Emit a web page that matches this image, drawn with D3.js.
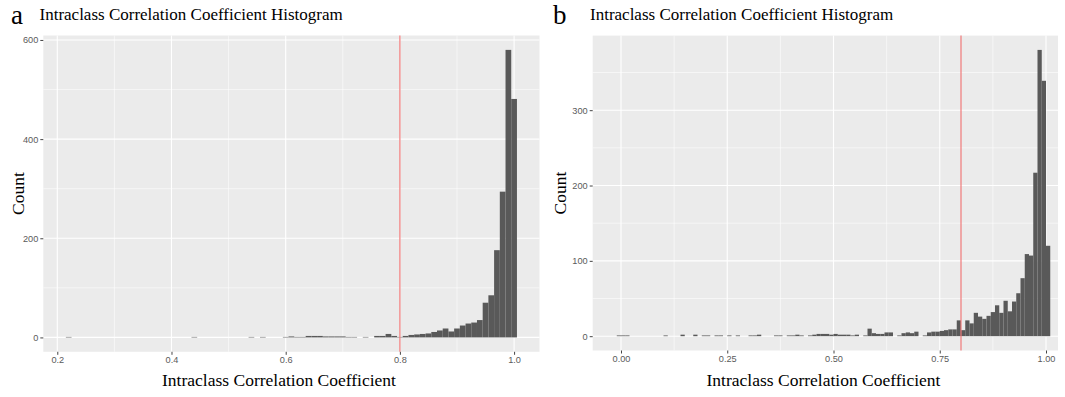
<!DOCTYPE html>
<html><head><meta charset="utf-8">
<script src="https://cdn.jsdelivr.net/npm/d3@7"></script>
<style>body{margin:0;background:#fff}svg{display:block}</style>
</head><body><svg id="c" width="1065" height="397"></svg>
<script>
// ---------------- data ----------------
const binWidth = 0.01;
const cutoff = 0.8;
const titleText = "Intraclass Correlation Coefficient Histogram";
const xTitle = "Intraclass Correlation Coefficient";
const yTitle = "Count";

// Panel a: bins centred on 0.20, 0.21, ... 1.00
const binStartsA = d3.range(0, 81).map(i => 0.195 + i * 0.01);
const countsA = [
  0,0,1,0,0,0,0,0,0,0, 0,0,0,0,0,0,0,0,0,0,   // 0.20-0.39
  0,0,0,0,1,0,0,0,0,0, 0,0,0,0,1,0,1,0,0,0,   // 0.40-0.59
  1,2,1,1,3,3,3,2,2,2, 2,1,1,0,1,0,3,3,7,3,   // 0.60-0.79
  1,3,5,6,7,8,11,14,18,12, 18,24,28,30,35,70,85,176,294,580, // 0.80-0.99
  481                                          // 1.00
];
const xTicksA = [0.2, 0.4, 0.6, 0.8, 1.0];
const xMinorA = [0.3, 0.5, 0.7, 0.9];
const yTicksA = [0, 200, 400, 600];
const yMinorA = [100, 300, 500];

// Panel b: bins with left edges -0.01, 0.00, ... 1.00
const binStartsB = d3.range(0, 102).map(i => -0.01 + i * 0.01);
const countsB = [
  1,1,1,0,0,0,0,0,0,0,        // -0.01 .. 0.08
  0,1,0,0,0,2,0,0,2,0,        // 0.09 .. 0.18
  1,1,0,1,1,0,1,0,1,0,        // 0.19 .. 0.28
  0,1,1,2,0,0,0,1,1,0,        // 0.29 .. 0.38
  1,1,2,1,0,1,2,3,3,3,        // 0.39 .. 0.48
  2,3,2,2,2,1,2,0,1,10,       // 0.49 .. 0.58
  4,3,3,5,5,0,1,4,5,4,        // 0.59 .. 0.68
  6,0,1,5,6,6,7,8,9,9,        // 0.69 .. 0.78
  21,8,21,17,31,26,23,27,32,41, // 0.79 .. 0.88
  31,47,33,46,57,77,109,107,217,380, // 0.89 .. 0.98
  339,120                     // 0.99 .. 1.00
];
const xTicksB = [0, 0.25, 0.5, 0.75, 1.0];
const xMinorB = [0.125, 0.375, 0.625, 0.875];
const yTicksB = [0, 100, 200, 300];
const yMinorB = [50, 150, 250, 350];

// ---------------- drawing ----------------
const svg = d3.select("#c");

function panel(o) {
  const g = svg.append("g");
  const x = d3.scaleLinear().domain(o.xDomain).range([o.left, o.right]);
  const y = d3.scaleLinear().domain(o.yDomain).range([o.bottom, o.top]);

  g.append("rect").attr("x", o.left).attr("y", o.top)
    .attr("width", o.right - o.left).attr("height", o.bottom - o.top)
    .attr("fill", "#EBEBEB");

  // minor grid
  g.selectAll(".xm").data(o.xMinor).enter().append("line")
    .attr("x1", d => x(d)).attr("x2", d => x(d)).attr("y1", o.top).attr("y2", o.bottom)
    .attr("stroke", "#fff").attr("stroke-width", 0.55);
  g.selectAll(".ym").data(o.yMinor).enter().append("line")
    .attr("y1", d => y(d)).attr("y2", d => y(d)).attr("x1", o.left).attr("x2", o.right)
    .attr("stroke", "#fff").attr("stroke-width", 0.55);
  // major grid
  g.selectAll(".xM").data(o.xTicks).enter().append("line")
    .attr("x1", d => x(d)).attr("x2", d => x(d)).attr("y1", o.top).attr("y2", o.bottom)
    .attr("stroke", "#fff").attr("stroke-width", 1.1);
  g.selectAll(".yM").data(o.yTicks).enter().append("line")
    .attr("y1", d => y(d)).attr("y2", d => y(d)).attr("x1", o.left).attr("x2", o.right)
    .attr("stroke", "#fff").attr("stroke-width", 1.1);

  // bars
  const bins = o.starts.map((s, i) => ({x0: s, x1: s + binWidth, n: o.counts[i]}));
  g.selectAll(".bar").data(bins.filter(d => d.n > 0)).enter().append("rect")
    .attr("x", d => x(d.x0)).attr("width", d => x(d.x1) - x(d.x0))
    .attr("y", d => y(d.n)).attr("height", d => y(0) - y(d.n))
    .attr("fill", "#595959");

  // cutoff line
  g.append("line").attr("x1", x(cutoff)).attr("x2", x(cutoff))
    .attr("y1", o.top).attr("y2", o.bottom)
    .attr("stroke", "#F07A7A").attr("stroke-width", 1.2);

  // axes
  const xa = d3.axisBottom(x).tickValues(o.xTicks).tickSize(3).tickPadding(2)
    .tickFormat(o.xFmt);
  const gx = g.append("g").attr("transform", `translate(0,${o.bottom})`).call(xa);
  const ya = d3.axisLeft(y).tickValues(o.yTicks).tickSize(3).tickPadding(2)
    .tickFormat(d3.format("d"));
  const gy = g.append("g").attr("transform", `translate(${o.left},0)`).call(ya);
  [gx, gy].forEach(a => {
    a.select(".domain").remove();
    a.selectAll(".tick line").attr("stroke", "#444").attr("stroke-width", 1);
    a.selectAll(".tick text").attr("fill", "#5a5a5a")
      .style("font-family", "'Liberation Sans', Arial, sans-serif").style("font-size", "9.2px");
  });

  // titles
  const serif = "'Liberation Serif', 'Times New Roman', serif";
  g.append("text").attr("x", o.xTitleX).attr("y", o.xTitleY)
    .attr("text-anchor", "middle").style("font-family", serif).style("font-size", "17.5px")
    .attr("fill", "#000").text(xTitle);
  g.append("text").attr("transform", `translate(${o.yTitleX},${(o.top + o.bottom) / 2}) rotate(-90)`)
    .attr("text-anchor", "middle").style("font-family", serif).style("font-size", "17.5px")
    .attr("fill", "#000").text(yTitle);
  g.append("text").attr("x", o.titleX).attr("y", 20)
    .style("font-family", serif).style("font-size", "17px").attr("fill", "#000").text(titleText);
  g.append("text").attr("x", o.letterX).attr("y", 24)
    .style("font-family", serif).style("font-size", "27px").attr("fill", "#000").text(o.letter);
}

panel({
  left: 43.3, right: 539.5, top: 35.5, bottom: 351.8,
  xDomain: [0.1755, 1.0445], yDomain: [-29, 609],
  starts: binStartsA, counts: countsA,
  xTicks: xTicksA, xMinor: xMinorA, yTicks: yTicksA, yMinor: yMinorA,
  xFmt: d3.format(".1f"),
  xTitleX: 279, xTitleY: 386, yTitleX: 23.5, titleX: 39.5, letter: "a", letterX: 11
});
panel({
  left: 592.7, right: 1058, top: 35.6, bottom: 350.5,
  xDomain: [-0.0666, (1058 - 621) / 425], yDomain: [-19, 399],
  starts: binStartsB, counts: countsB,
  xTicks: xTicksB, xMinor: xMinorB, yTicks: yTicksB, yMinor: yMinorB,
  xFmt: d3.format(".2f"),
  xTitleX: 823.5, xTitleY: 386, yTitleX: 566, titleX: 590, letter: "b", letterX: 553
});
</script></body></html>
